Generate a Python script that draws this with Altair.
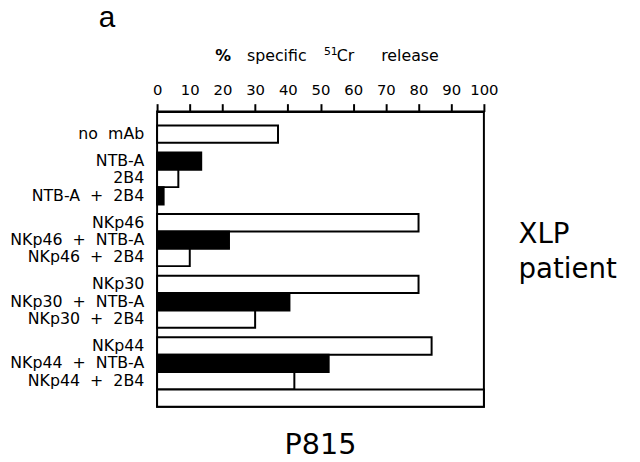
import altair as alt
import pandas as pd

S = "\u00a0\u00a0"
labels = ["no" + S + "mAb", "NTB-A", "2B4", "NTB-A" + S + "+" + S + "2B4",
          "NKp46", "NKp46" + S + "+" + S + "NTB-A", "NKp46" + S + "+" + S + "2B4",
          "NKp30", "NKp30" + S + "+" + S + "NTB-A", "NKp30" + S + "+" + S + "2B4",
          "NKp44", "NKp44" + S + "+" + S + "NTB-A", "NKp44" + S + "+" + S + "2B4", ""]
values = [37, 13.5, 6.5, 2, 80, 22, 10, 80, 40.5, 30, 84, 52.5, 42, 100]
fills = ["white", "black", "white", "black",
         "white", "black", "white",
         "white", "black", "white",
         "white", "black", "white", "white"]
groups = [0, 1, 1, 1, 2, 2, 2, 3, 3, 3, 4, 4, 4, 4]
ticks = [0, 10, 20, 30, 40, 50, 60, 70, 80, 90, 100]

TOP = 0.8
GAP = 0.55
rows = []
for i, (lab, v, f, g) in enumerate(zip(labels, values, fills, groups)):
    s = TOP + i + GAP * g
    rows.append({"label": lab, "value": v, "fill": f, "slot": s,
                 "slot_end": s + 1, "mid": s + 0.5})
df = pd.DataFrame(rows)
NSLOT = 17

FONT = "DejaVu Sans"

yscale = alt.Scale(domain=[0, NSLOT], reverse=True, nice=False, zero=False)
xscale = alt.Scale(domain=[0, 100], nice=False)

bars = alt.Chart(df).mark_bar(stroke="black", strokeWidth=2).encode(
    x=alt.X("value:Q", scale=xscale,
            axis=alt.Axis(orient="top", values=ticks, title=None, grid=False,
                          domainColor="black", domainWidth=2,
                          tickColor="black", tickWidth=2, tickSize=8,
                          labelFont=FONT, labelFontSize=15, labelColor="black",
                          labelPadding=6, labelFlush=False)),
    x2=alt.datum(0),
    y=alt.Y("slot:Q", scale=yscale, axis=None),
    y2="slot_end:Q",
    color=alt.Color("fill:N", scale=None),
)

lab = alt.Chart(df).mark_text(align="right", baseline="middle", font=FONT,
                              fontSize=16, color="black").encode(
    x=alt.value(-13),
    y=alt.Y("mid:Q", scale=yscale, axis=None),
    text="label:N",
)


def txt(t, x, y, size, weight="normal", font=FONT, align="left"):
    return alt.Chart(pd.DataFrame({"t": [t]})).mark_text(
        align=align, baseline="alphabetic", font=font, fontSize=size,
        fontWeight=weight, color="black").encode(
        x=alt.value(x), y=alt.value(y), text="t:N")


annos = [
    txt("a", -59, -86, 30, font="Liberation Sans"),
    txt("%", 59, -51, 16, weight="bold"),
    txt("specific", 91, -51, 16),
    txt("51", 169, -57, 11),
    txt("Cr", 182, -51, 16),
    txt("release", 227, -51, 16),
    txt("XLP", 366, 133, 28),
    txt("patient", 366, 169, 28),
    txt("P815", 165.5, 347, 29, align="center"),
]

chart = alt.layer(bars, lab, *annos).properties(
    width=331, height=299,
    autosize=alt.AutoSizeParams(type="none"),
    padding={"left": 151, "top": 102, "right": 150, "bottom": 52},
).configure_view(stroke="black", strokeWidth=2)

chart.save("out.html", embed_options={"renderer": "svg", "actions": False})
